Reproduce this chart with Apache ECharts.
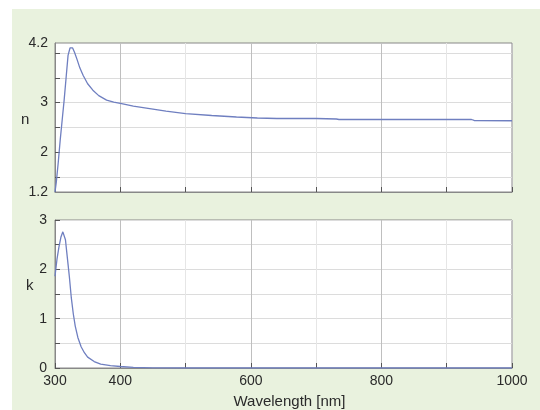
<!DOCTYPE html>
<html>
<head>
<meta charset="utf-8">
<script src="https://cdn.jsdelivr.net/npm/echarts@6/dist/echarts.min.js"></script>
<style>
  html, body { margin: 0; padding: 0; background: #fff; }
  .wrap { position: relative; width: 540px; height: 410px; }
  .bg { position: absolute; left: 12px; top: 9px; right: 0; bottom: 0; background: #e9f2de; }
  #chart { position: absolute; left: 0; top: 0; width: 540px; height: 410px; }
</style>
</head>
<body>
<div class="wrap">
  <div class="bg"></div>
  <div id="chart"></div>
</div>
<script>
  // wavelength [nm] and refractive index n
  var nWave = [300, 302, 305, 308, 311, 314, 317, 320, 323, 325, 327, 330, 334, 338, 343, 350, 358, 367, 379, 390, 402, 420, 445, 470, 500, 540, 578, 610, 640, 700, 731, 735, 938, 942, 1000];
  var nValues = [1.2, 1.4, 1.8, 2.25, 2.65, 3.05, 3.5, 3.95, 4.1, 4.13, 4.1, 4.01, 3.86, 3.7, 3.55, 3.38, 3.25, 3.14, 3.05, 3.01, 2.98, 2.93, 2.88, 2.83, 2.78, 2.74, 2.71, 2.69, 2.68, 2.68, 2.67, 2.66, 2.66, 2.64, 2.635];

  // wavelength [nm] and extinction coefficient k
  var kWave = [300, 303, 306, 309, 312, 314, 316, 318, 320, 322, 325, 328, 331, 335, 340, 345, 350, 360, 370, 385, 400, 420, 450, 500, 1000];
  var kValues = [1.86, 2.2, 2.45, 2.65, 2.76, 2.74, 2.6, 2.35, 2.1, 1.85, 1.42, 1.1, 0.85, 0.62, 0.43, 0.31, 0.22, 0.13, 0.08, 0.05, 0.03, 0.012, 0.004, 0, 0];

  var xLabels = [300, 400, 600, 800, 1000];
  var nLabels = [1.2, 2, 3, 4.2];
  var nTicks = [1.5, 2, 2.5, 3, 3.5, 4];
  var kLabels = [0, 1, 2, 3];

  function pairs(xs, ys) {
    return xs.map(function (x, i) { return [x, ys[i]]; });
  }

  var font = 'Liberation Sans, Arial, sans-serif';
  var lineColor = '#6f7fc0';
  var textColor = '#2a2a2a';

  function xAxis(gridIndex, withLabels) {
    var ax = {
      type: 'value',
      gridIndex: gridIndex,
      min: 300,
      max: 1000,
      interval: 100,
      axisLine: { show: true, lineStyle: { color: '#888', width: 1 } },
      axisTick: { show: true, inside: true, length: 5, lineStyle: { color: '#555' } },
      axisLabel: { show: false },
      splitLine: {
        show: true,
        // 300,500,700,900 light / 400,600,800 darker
        lineStyle: { color: ['#e6e6e6', '#bfbfbf'], width: 1 }
      }
    };
    if (withLabels) {
      ax.axisLabel = {
        show: true,
        color: textColor,
        fontSize: 14,
        fontFamily: font,
        margin: 6,
        formatter: function (v) { return xLabels.indexOf(v) >= 0 ? String(v) : ''; }
      };
      ax.name = 'Wavelength [nm]';
      ax.nameLocation = 'middle';
      ax.nameGap = 26;
      ax.nameTextStyle = { color: textColor, fontSize: 15, fontFamily: font, padding: [0, 0, 0, 12] };
    }
    return ax;
  }

  var myChart = echarts.init(document.getElementById('chart'));
  myChart.setOption({
    animation: false,
    grid: [
      { left: 55, right: 28, top: 43, height: 149, show: true, backgroundColor: '#fff', borderColor: '#888', borderWidth: 1 },
      { left: 55, right: 28, top: 220, height: 149, show: true, backgroundColor: '#fff', borderColor: '#888', borderWidth: 1 }
    ],
    xAxis: [xAxis(0, false), xAxis(1, true)],
    yAxis: [
      {
        type: 'value',
        gridIndex: 0,
        min: 1.2,
        max: 4.2,
        axisLine: { show: true, lineStyle: { color: '#888' } },
        axisTick: { show: true, inside: true, length: 5, customValues: nTicks, lineStyle: { color: '#555' } },
        axisLabel: { color: textColor, fontSize: 14, fontFamily: font, margin: 7, customValues: nLabels },
        splitLine: { show: true, lineStyle: { color: '#dcdcdc' } }
      },
      {
        type: 'value',
        gridIndex: 1,
        min: 0,
        max: 3,
        interval: 0.5,
        axisLine: { show: true, lineStyle: { color: '#888' } },
        axisTick: { show: true, inside: true, length: 5, lineStyle: { color: '#555' } },
        axisLabel: {
          color: textColor, fontSize: 14, fontFamily: font, margin: 8,
          formatter: function (v) { return kLabels.indexOf(v) >= 0 ? String(v) : ''; }
        },
        splitLine: { show: true, lineStyle: { color: '#dcdcdc' } }
      }
    ],
    graphic: [
      { type: 'text', left: 21, top: 112, style: { text: 'n', fill: textColor, font: '15px ' + font } },
      { type: 'text', left: 26, top: 278, style: { text: 'k', fill: textColor, font: '15px ' + font } }
    ],
    series: [
      {
        type: 'line',
        xAxisIndex: 0,
        yAxisIndex: 0,
        showSymbol: false,
        silent: true,
        lineStyle: { color: lineColor, width: 1.3 },
        data: pairs(nWave, nValues)
      },
      {
        type: 'line',
        xAxisIndex: 1,
        yAxisIndex: 1,
        showSymbol: false,
        silent: true,
        lineStyle: { color: lineColor, width: 1.3 },
        data: pairs(kWave, kValues)
      }
    ]
  });
</script>
</body>
</html>
